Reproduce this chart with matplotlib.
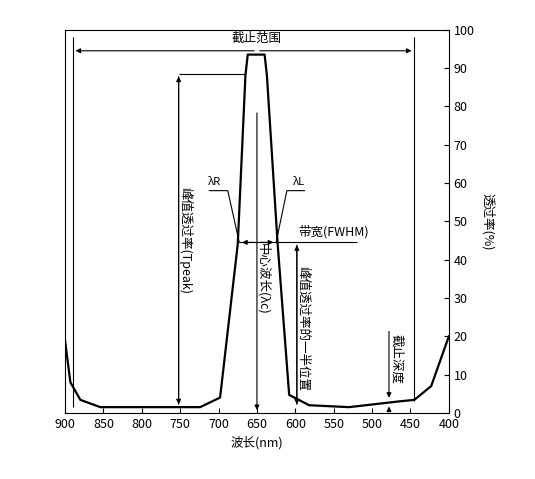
import matplotlib
matplotlib.use('Agg')
import matplotlib.pyplot as plt

plt.rcParams['font.family'] = ['Noto Sans CJK SC', 'DejaVu Sans']

# curve
wl = [900, 893, 880, 854, 800, 750, 724, 698, 675, 665, 662, 640, 637, 623, 608, 582, 530, 465, 445, 423, 400]
tr = [19, 8, 3.4, 1.5, 1.5, 1.5, 1.5, 4, 44, 88, 93.5, 93.5, 88, 44, 4.7, 2, 1.5, 3, 3.4, 7, 20]
peak = 88.5
center = 650
lam_r, lam_l = 673, 625
half = 44.5
cut_lo, cut_hi = 890, 445

fig = plt.figure(figsize=(5.35, 4.79), dpi=100)
ax = fig.add_axes([0.1215, 0.138, 0.7175, 0.80])
ax.plot(wl, tr, color='black', lw=1.6)
ax.set_xlim(900, 400)
ax.set_ylim(0, 100)
ax.set_xticks(range(900, 399, -50))
ax.set_yticks(range(0, 101, 10))
ax.yaxis.tick_right()
ax.yaxis.set_label_position('right')
ax.tick_params(direction='in', labelsize=9)
ax.set_xlabel('波长(nm)', fontsize=9)
ax.set_ylabel('透过率(%)', fontsize=9, rotation=270, labelpad=14)

arr = dict(arrowstyle='-|>', color='black', lw=0.8, mutation_scale=7)
# cut-off range
ax.annotate('', xy=(cut_lo, 94.5), xytext=(650, 94.5), arrowprops=arr)
ax.annotate('', xy=(cut_hi, 94.5), xytext=(650, 94.5), arrowprops=arr)
ax.vlines([cut_lo, cut_hi], [1.5, 3.2], 98, color='black', lw=0.8)
ax.text(650, 96, '截止范围', ha='center', va='bottom', fontsize=9)
# peak transmittance
ax.hlines(peak, 752, 665, color='black', lw=0.8)
ax.annotate('', xy=(752, peak), xytext=(752, 1.5), arrowprops=arr)
ax.annotate('', xy=(752, 1.5), xytext=(752, peak), arrowprops=arr)
ax.text(744, 45, '峰值透过率(Tpeak)', rotation=270, ha='center', va='center', fontsize=9)
# centre wavelength
ax.annotate('', xy=(center, 0), xytext=(center, 79), arrowprops=arr)
ax.text(642, 35, '中心波长(λc)', rotation=270, ha='center', va='center', fontsize=9)
# bandwidth
ax.hlines(half, lam_r, 520, color='black', lw=0.8)
ax.annotate('', xy=(lam_r, half), xytext=(center, half), arrowprops=arr)
ax.annotate('', xy=(lam_l, half), xytext=(center, half), arrowprops=arr)
ax.text(550, half + 1, '带宽(FWHM)', ha='center', va='bottom', fontsize=9)
ax.annotate('', xy=(598, half), xytext=(598, 1.5), arrowprops=arr)
ax.annotate('', xy=(598, 1.5), xytext=(598, half), arrowprops=arr)
ax.text(590, 22, '峰值透过率的一半位置', rotation=270, ha='center', va='center', fontsize=9)
# lambda labels
ax.plot([lam_r, 688, 712], [half, 58, 58], color='black', lw=0.8)
ax.text(705, 59, 'λR', fontsize=8, ha='center', va='bottom')
ax.plot([lam_l, 611, 588], [half, 58, 58], color='black', lw=0.8)
ax.text(595, 59, 'λL', fontsize=8, ha='center', va='bottom')
# cut-off depth
ax.annotate('', xy=(478, 3.2), xytext=(478, 22), arrowprops=arr)
ax.annotate('', xy=(478, 2.4), xytext=(478, 0.2), arrowprops=arr)
ax.text(468, 14, '截止深度', rotation=270, ha='center', va='center', fontsize=9)

fig.savefig('out.png', dpi=100)
